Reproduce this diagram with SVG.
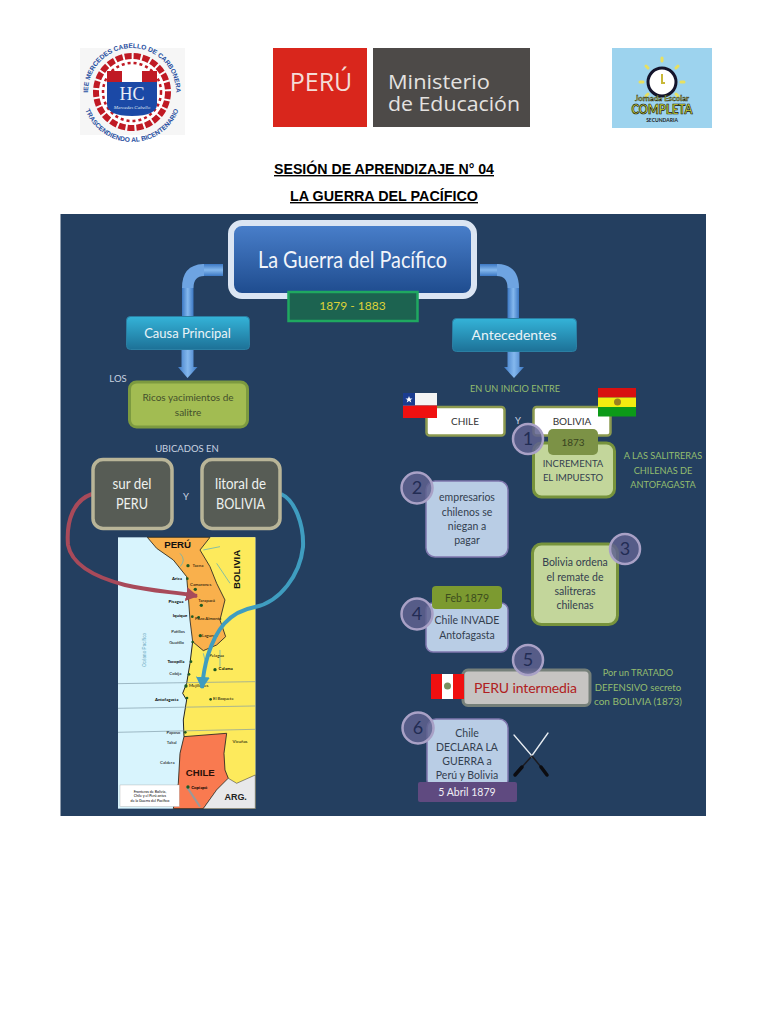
<svg xmlns="http://www.w3.org/2000/svg" width="768" height="1024" viewBox="0 0 768 1024">
<style>
text{font-family:"Lato","Open Sans","Liberation Sans",sans-serif;text-anchor:middle}
.hd{font-family:"Liberation Sans",Arial,sans-serif;font-weight:700;font-size:14px;fill:#000;text-decoration:underline}
.lab{font-size:9.5px;fill:#c9d3e0}
.grn{font-size:9.2px;fill:#93bd6f}
.dk{font-size:10.500px;fill:#33404f}
.ol{font-size:10px;fill:#44502c}
.blue{fill:url(#gCyan);stroke:#2b7fa3;stroke-width:1}
.wh{font-size:14.500px;fill:#eef1ee}
.grey{fill:#575c55;stroke:#b9b598;stroke-width:3.500}
.lblue{fill:#b9cde5;stroke:#7f77ad;stroke-width:1.500}
.lgreen{fill:#c3d69b;stroke:#77933c;stroke-width:3}
.wbox{fill:#fff;stroke:#8c9a50;stroke-width:2.500}
.circ{fill:#5f618f;fill-opacity:.85;stroke:#a9a1c6;stroke-width:2.500}
.num{font-size:18px;fill:#222c54}
</style>
<defs>
<linearGradient id="gTitle" x1="0" y1="0" x2="0" y2="1"><stop offset="0" stop-color="#4a80cc"/><stop offset="1" stop-color="#1d4a8c"/></linearGradient>
<linearGradient id="gCyan" x1="0" y1="0" x2="0" y2="1"><stop offset="0" stop-color="#34b3d8"/><stop offset="1" stop-color="#1d7197"/></linearGradient>
<linearGradient id="gPipeH" x1="0" y1="0" x2="0" y2="1"><stop offset="0" stop-color="#3c78c4"/><stop offset=".5" stop-color="#84b8ee"/><stop offset="1" stop-color="#3c78c4"/></linearGradient>
<linearGradient id="gPipeV" x1="0" y1="0" x2="1" y2="0"><stop offset="0" stop-color="#3c78c4"/><stop offset=".5" stop-color="#84b8ee"/><stop offset="1" stop-color="#3c78c4"/></linearGradient>
<marker id="mRed" markerUnits="userSpaceOnUse" markerWidth="13" markerHeight="14" refX="11" refY="7" orient="auto"><path d="M0 0L12 7L0 14Z" fill="#a84a5a"/></marker>
<marker id="mBlue" markerUnits="userSpaceOnUse" markerWidth="13" markerHeight="14" refX="11" refY="7" orient="auto"><path d="M0 0L12 7L0 14Z" fill="#3f9dc0"/></marker>
<path id="arcTop" d="M88 92A44 44 0 0 1 176 92"/>
<path id="arcBot" d="M82 92A50 50 0 0 0 182 92"/>
</defs>
<rect width="768" height="1024" fill="#fff"/>

<g id="logo-school">
<rect x="80" y="48" width="105" height="87" fill="#f6f6f6"/>
<circle cx="132" cy="92" r="36" fill="#fff" stroke="#c01a24" stroke-width="6" stroke-dasharray="7 2"/>
<circle cx="132" cy="92" r="29" fill="none" stroke="#c01a24" stroke-width="2.500" stroke-dasharray="3 3"/>
<rect x="107" y="71" width="50" height="11" fill="#c01a24"/>
<rect x="122" y="71" width="20" height="11" fill="#fff"/>
<path d="M107 82H157V104Q157 116 132 116Q107 116 107 104Z" fill="#1b49a6"/>
<text x="132" y="100" font-size="18" fill="#e6ecf5" style="font-family:'Liberation Serif',serif">HC</text>
<text x="132" y="109" font-size="5" font-style="italic" fill="#dfe6f2" style="font-family:'Liberation Serif',serif">Mercedes Cabello</text>
<text font-size="6.600" font-weight="700" fill="#1f4ea0" style="font-family:'Liberation Sans',sans-serif"><textPath href="#arcTop" startOffset="50%">IEE MERCEDES CABELLO DE CARBONERA</textPath></text>
<text font-size="6.600" font-weight="700" fill="#1f4ea0" style="font-family:'Liberation Sans',sans-serif"><textPath href="#arcBot" startOffset="50%">TRASCENDIENDO AL BICENTENARIO</textPath></text>
</g>

<g id="logo-minedu">
<rect x="273" y="48" width="94" height="79" fill="#d9261c"/>
<rect x="373" y="48" width="157" height="79" fill="#4d4a48"/>
<text x="321" y="91" font-size="25" fill="#f4dcd6" style="font-family:'Open Sans',sans-serif">PERÚ</text>
<text x="388" y="89" font-size="20.500" fill="#e4e2e0" textLength="102" lengthAdjust="spacingAndGlyphs" style="text-anchor:start;font-family:'Open Sans',sans-serif">Ministerio</text>
<text x="388" y="110.500" font-size="20.500" fill="#e4e2e0" textLength="132" lengthAdjust="spacingAndGlyphs" style="text-anchor:start;font-family:'Open Sans',sans-serif">de Educación</text>
</g>

<g id="logo-jec">
<rect x="612" y="48" width="100" height="80" fill="#9dd3ee"/>
<g stroke="#e8e060" stroke-width="3" stroke-linecap="round">
<path d="M662 58v3M640 82h3M681 82h3M646 66l2 2M678 66l-2 2M646 96l2-2M678 96l-2-2"/>
</g>
<circle cx="662" cy="82" r="14" fill="#fff" stroke="#14142c" stroke-width="3"/>
<path d="M662 74v9h3" fill="none" stroke="#c8b838" stroke-width="2"/>
<text x="662" y="100.500" font-size="7.500" font-weight="700" fill="#d8e050" stroke="#111" stroke-width=".4" textLength="54" lengthAdjust="spacingAndGlyphs">Jornada Escolar</text>
<text x="662" y="114" font-size="13" font-weight="900" fill="#d8e034" stroke="#111" stroke-width=".7" textLength="61" lengthAdjust="spacingAndGlyphs">COMPLETA</text>
<text x="662" y="122" font-size="5" font-weight="700" fill="#222">SECUNDARIA</text>
</g>

<g id="heading">
<text class="hd" x="384" y="174" textLength="220" lengthAdjust="spacingAndGlyphs">SESIÓN DE APRENDIZAJE N° 04</text>
<text class="hd" x="384" y="201" textLength="188" lengthAdjust="spacingAndGlyphs">LA GUERRA DEL PACÍFICO</text>
</g>

<rect id="panel" x="60.500" y="214" width="645.500" height="602" fill="#243f60"/>

<g id="map" transform="translate(60 520) scale(.3333)">
<rect x="174" y="52" width="412" height="814" fill="#d8f4fd"/>
<path d="M262 52H586V866H340L355 790L360 700L372 650L370 600L380 540L368 520L380 490L390 430L398 365L385 230L380 170L340 120L290 85Z" fill="#fdea5c"/>
<path d="M262 52H450L420 90L450 140L470 190L495 240L480 300L497 350L470 375L430 392L398 365L390 300L385 230L380 170L340 120L290 85Z" fill="#f9b04c" stroke="#222" stroke-width="2.500"/>
<path d="M372 650L500 640L492 700L495 750L505 775L470 810L430 866H340L355 790L360 700Z" fill="#f97a50" stroke="#222" stroke-width="2.500"/>
<path d="M430 866L470 810L505 775L530 790L586 765V866Z" fill="#e8e8ea" stroke="#222" stroke-width="1.500"/>
<path d="M398 365L390 430L380 490L368 520L380 540L370 600L372 650" fill="none" stroke="#222" stroke-width="3"/>
<path d="M174 491L586 485M174 565L586 558M174 637L586 628" stroke="#7e9aa8" stroke-width="2" fill="none"/>
<path d="M360 100Q380 120 360 140M430 90L480 80M470 130L510 190M430 400L440 440M480 390V440" stroke="#6fb6b0" stroke-width="2.500" fill="none"/>
<rect x="180" y="795" width="178" height="65" fill="#fff" stroke="#999"/>
<path d="M380 800L420 860" stroke="#999" stroke-width="6"/>
<text x="353" y="84" font-size="29" font-weight="700" fill="#111" style="font-family:'Liberation Sans',sans-serif">PERÚ</text>
<text x="0" y="0" font-size="29" font-weight="700" fill="#111" transform="translate(541 148) rotate(-90)" style="font-family:'Liberation Sans',sans-serif">BOLIVIA</text>
<text x="421" y="768" font-size="29" font-weight="700" fill="#2a1008" style="font-family:'Liberation Sans',sans-serif">CHILE</text>
<text x="527" y="840" font-size="27" font-weight="700" fill="#222" style="font-family:'Liberation Sans',sans-serif">ARG.</text>
<text x="0" y="0" font-size="14" fill="#68a8c0" transform="translate(258 390) rotate(-90)" style="font-family:'Liberation Sans',sans-serif">Océano Pacífico</text>
<g fill="#1e5a22"><circle cx="384" cy="137" r="5"/><circle cx="382" cy="176" r="4"/><circle cx="406" cy="208" r="5"/><circle cx="424" cy="256" r="5"/><circle cx="397" cy="290" r="4"/><circle cx="416" cy="292" r="4"/><circle cx="421" cy="347" r="5"/><circle cx="398" cy="366" r="4"/><circle cx="393" cy="425" r="4"/><circle cx="387" cy="463" r="4"/><circle cx="465" cy="449" r="5"/><circle cx="378" cy="498" r="5"/><circle cx="381" cy="534" r="4"/><circle cx="452" cy="538" r="4"/><circle cx="376" cy="637" r="4"/><circle cx="384" cy="801" r="5"/></g>
<g style="font-family:'Liberation Sans',sans-serif" font-size="13">
<text x="414" y="141">Tacna</text><text x="351" y="180" font-weight="700">Arica</text><text x="422" y="197">Camarones</text><text x="348" y="249" font-weight="700">Pisagua</text><text x="440" y="245">Tarapacá</text><text x="360" y="292" font-weight="700">Iquique</text><text x="445" y="300">Pozo Almonte</text><text x="354" y="338">Patillos</text><text x="449" y="351">Lagunas</text><text x="350" y="371">Guatillo</text><text x="348" y="429" font-weight="700">Tocopilla</text><text x="346" y="465">Cobija</text><text x="470" y="410">Pelagua</text><text x="497" y="451" font-weight="700">Calama</text><text x="416" y="502">Mejillones</text><text x="320" y="544" font-weight="700">Antofagasta</text><text x="490" y="541">El Boquete</text><text x="340" y="642">Paposo</text><text x="335" y="671">Taltal</text><text x="322" y="731">Caldera</text><text x="540" y="670">Vicuñas</text><text x="418" y="806" font-weight="700">Copiapó</text>
<text x="270" y="818" font-size="11">Fronteras de Bolivia,</text><text x="270" y="832" font-size="11">Chile y el Perú antes</text><text x="270" y="846" font-size="11">de la Guerra del Pacífico</text>
</g>
</g>

<g id="connectors">
<rect x="203" y="264" width="20" height="12" fill="url(#gPipeH)"/>
<path d="M204 264H203Q182 265 182 288H193.500Q193.500 276 204 276Z" fill="#6ea4e2"/>
<rect x="182" y="288" width="11.500" height="30" fill="url(#gPipeV)"/>
<path d="M181.500 348H193.500V367H197.500L187.500 378L178 367H181.500Z" fill="url(#gPipeV)"/>
<rect x="480" y="264" width="18" height="12" fill="url(#gPipeH)"/>
<path d="M497 264H498Q519 265 519 288H507.500Q507.500 276 497 276Z" fill="#6ea4e2"/>
<rect x="507.500" y="288" width="11.500" height="32" fill="url(#gPipeV)"/>
<path d="M507.500 350H519.500V367H524L514 378L504 367H507.500Z" fill="url(#gPipeV)"/>
<path d="M92 494C74 500 66 520 68 545C72 566 98 578 125 585C150 591 175 592 197 596" fill="none" stroke="#a84a5a" stroke-width="4" marker-end="url(#mRed)"/>
<path d="M281 494C295 500 304 525 303 547C300 575 280 602 255 607C228 612 216 630 208 655C204 668 203 676 202 688" fill="none" stroke="#3f9dc0" stroke-width="4" marker-end="url(#mBlue)"/>
</g>

<g id="title">
<rect x="231" y="223" width="243" height="73" rx="11" fill="url(#gTitle)" stroke="#dbe5f3" stroke-width="6"/>
<text x="352.500" y="268" font-size="24" fill="#f2f5fa" textLength="189" lengthAdjust="spacingAndGlyphs">La Guerra del Pacífico</text>
</g>
<g id="date">
<rect x="288.500" y="292" width="129" height="29" fill="#1c6350" stroke="#1fa860" stroke-width="2.500"/>
<text x="352.500" y="310" font-size="12" fill="#dcd238">1879 - 1883</text>
</g>
<g id="causa"><rect class="blue" x="126.500" y="316.500" width="123" height="33" rx="4"/><text x="187.500" y="338" font-size="13" fill="#eaf4f8">Causa Principal</text></g>
<g id="antecedentes"><rect class="blue" x="452.500" y="318.500" width="124" height="33" rx="4"/><text x="514" y="340" font-size="14" fill="#eaf4f8">Antecedentes</text></g>

<text class="lab" x="118" y="382">LOS</text>
<g id="ricos"><rect x="129.500" y="382" width="118" height="45" rx="7" fill="#a2bc52" stroke="#7c9a40" stroke-width="3"/>
<text class="ol" x="188" y="401">Ricos yacimientos de</text><text class="ol" x="188" y="416">salitre</text></g>
<text class="lab" x="187" y="452">UBICADOS EN</text>
<g id="sur"><rect class="grey" x="93" y="459.500" width="79" height="69" rx="10"/><text class="wh" x="132" y="489" textLength="39" lengthAdjust="spacingAndGlyphs">sur del</text><text class="wh" x="132" y="509" textLength="32" lengthAdjust="spacingAndGlyphs">PERU</text></g>
<text class="lab" x="186" y="500">Y</text>
<g id="litoral"><rect class="grey" x="202" y="459.500" width="78" height="69" rx="10"/><text class="wh" x="240.500" y="489" textLength="51" lengthAdjust="spacingAndGlyphs">litoral de</text><text class="wh" x="240.500" y="509" textLength="49" lengthAdjust="spacingAndGlyphs">BOLIVIA</text></g>

<text class="grn" x="515" y="392">EN UN INICIO ENTRE</text>
<g id="chile"><rect class="wbox" x="426.500" y="407" width="78" height="28.500" rx="3"/><text x="465" y="425" font-size="10" fill="#333">CHILE</text>
<g id="flag-chile"><rect x="403" y="393" width="34" height="12.500" fill="#f4f4f4"/><rect x="403" y="405.500" width="34" height="12.500" fill="#f01010"/><rect x="403" y="393" width="12" height="12.500" fill="#1a3c90"/><path d="M409 396l1 2.500h2.500l-2 1.500 .8 2.500-2.300-1.500-2.300 1.500 .8-2.500-2-1.500h2.500Z" fill="#fff"/></g></g>
<text class="lab" x="518" y="424">Y</text>
<g id="bolivia"><rect class="wbox" x="533.500" y="407" width="77" height="28.500" rx="3"/><text x="572" y="425" font-size="10" fill="#333">BOLIVIA</text>
<g id="flag-bolivia"><rect x="598" y="388" width="38" height="9.500" fill="#d81010"/><rect x="598" y="397.500" width="38" height="9.500" fill="#f2ec10"/><rect x="598" y="407" width="38" height="9.500" fill="#0c9a18"/><circle cx="617.500" cy="402" r="3.500" fill="#9a8020"/></g></g>

<g id="n1"><rect class="lgreen" x="533.500" y="443" width="81" height="54" rx="8"/>
<circle class="circ" cx="528" cy="439" r="15"/><text class="num" x="528" y="445">1</text>
<rect x="548" y="429" width="50" height="26" rx="5" fill="#7c9246"/><text x="573" y="446" font-size="10" fill="#384420">1873</text>
<text class="dk" x="573" y="467" font-size="9.500" style="font-size:9.500px">INCREMENTA</text><text class="dk" x="573" y="481" style="font-size:9.500px">EL IMPUESTO</text></g>
<text class="grn" x="663" y="459">A LAS SALITRERAS</text><text class="grn" x="663" y="473.500">CHILENAS DE</text><text class="grn" x="663" y="488">ANTOFAGASTA</text>

<g id="n2"><rect class="lblue" x="426" y="481" width="82" height="76" rx="9"/><circle class="circ" cx="417" cy="488" r="15.500"/><text class="num" x="417" y="494">2</text>
<text class="dk" x="467" y="501">empresarios</text><text class="dk" x="467" y="516">chilenos se</text><text class="dk" x="467" y="530">niegan a</text><text class="dk" x="467" y="544">pagar</text></g>

<g id="n3"><rect class="lgreen" x="532.500" y="544" width="85" height="80.500" rx="9"/><circle class="circ" cx="625" cy="549" r="15"/><text class="num" x="625" y="555">3</text>
<text class="dk" x="575" y="566">Bolivia ordena</text><text class="dk" x="575" y="581">el remate de</text><text class="dk" x="575" y="595">salitreras</text><text class="dk" x="575" y="609">chilenas</text></g>

<g id="n4"><rect class="lblue" x="426" y="603" width="82" height="49" rx="7"/><circle class="circ" cx="417" cy="614" r="15.500"/><text class="num" x="417" y="620">4</text>
<rect x="432" y="586" width="70" height="23" rx="4" fill="#7c9a30"/><text x="467" y="602" font-size="10.500" fill="#3c4d1e">Feb 1879</text>
<text class="dk" x="467" y="624">Chile INVADE</text><text class="dk" x="467" y="639">Antofagasta</text></g>

<g id="n5"><rect x="463" y="670" width="127" height="35.500" rx="5" fill="#c6c4c2" stroke="#76807a" stroke-width="3"/>
<g id="flag-peru"><rect x="431" y="674" width="33" height="25" fill="#f01010"/><rect x="442" y="674" width="11" height="25" fill="#fff"/><circle cx="447.500" cy="686" r="3.500" fill="#7a9060"/></g>
<circle class="circ" cx="528" cy="660" r="15"/><text class="num" x="528" y="666">5</text>
<text x="525.500" y="693" font-size="14" fill="#b02020" textLength="103" lengthAdjust="spacing">PERU intermedia</text></g>
<text class="grn" x="638" y="676">Por un TRATADO</text><text class="grn" x="638" y="691" style="font-size:9.600px">DEFENSIVO secreto</text><text class="grn" x="638" y="705" style="font-size:10px">con BOLIVIA (1873)</text>

<g id="n6"><rect class="lblue" x="427" y="719" width="81" height="70" rx="9"/><circle class="circ" cx="418" cy="728" r="15.500"/><text class="num" x="418" y="734">6</text>
<text class="dk" x="467" y="737">Chile</text><text class="dk" x="467" y="751">DECLARA LA</text><text class="dk" x="467" y="765">GUERRA a</text><text class="dk" x="467" y="779">Perú y Bolivia</text>
<rect x="418" y="782" width="99" height="20" rx="2" fill="#5f4a80"/><text x="467" y="796" font-size="10.500" fill="#f0eef5">5 Abril 1879</text></g>

<g id="rifles" fill="none" stroke-linecap="round">
<path d="M514 735L532 756M548 733L531 757" stroke="#e8edf2" stroke-width="1.300"/>
<path d="M532 756L541 767M531 757L522 767" stroke="#1c1c22" stroke-width="1.500"/>
<path d="M541 767L547 775M522 767L515 775" stroke="#0c0c10" stroke-width="3.500"/>
</g>
</svg>
